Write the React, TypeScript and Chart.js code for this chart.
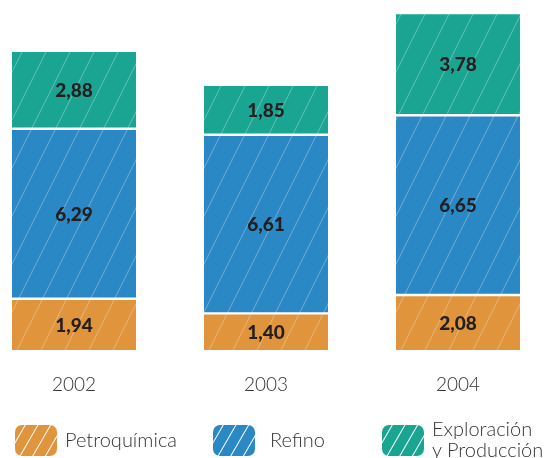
import React, { useEffect, useRef } from "react";
import { Chart, registerables } from "chart.js";

Chart.register(...registerables);

const years = ["2002", "2003", "2004"];
const petroquimica = [1.94, 1.4, 2.08];
const refino = [6.29, 6.61, 6.65];
const exploracion = [2.88, 1.85, 3.78];
const seriesNames = ["Petroquímica", "Refino", "Exploración y Producción"];
const legendLines = [["Petroquímica"], ["Refino"], ["Exploración", "y Producción"]];
const colors = ["#E0953C", "#2A88C5", "#19A592"];

function makePattern(color: string) {
  const c = document.createElement("canvas");
  c.width = 48;
  c.height = 48;
  const ctx = c.getContext("2d")!;
  ctx.fillStyle = color;
  ctx.fillRect(0, 0, 48, 48);
  ctx.strokeStyle = "rgba(255,255,255,0.25)";
  ctx.lineWidth = 1.2;
  for (let i = -48; i < 96; i += 24) {
    ctx.beginPath();
    ctx.moveTo(i, 48);
    ctx.lineTo(i + 24, 0);
    ctx.stroke();
  }
  return ctx.createPattern(c, "repeat")!;
}

const valueLabels = {
  id: "valueLabels",
  afterDatasetsDraw(chart: any) {
    const ctx = chart.ctx;
    ctx.save();
    ctx.font = "900 19px Lato";
    ctx.fillStyle = "#231f20";
    ctx.textAlign = "center";
    ctx.textBaseline = "middle";
    chart.data.datasets.forEach((ds: any, di: number) => {
      const meta = chart.getDatasetMeta(di);
      meta.data.forEach((bar: any, i: number) => {
        const p = bar.getProps(["x", "y", "base"], true);
        ctx.fillText(Number(ds.data[i]).toFixed(2).replace(".", ","), p.x, (p.y + p.base) / 2 + 1);
      });
    });
    ctx.restore();
  },
};

export default function App() {
  const ref = useRef<HTMLCanvasElement>(null);

  useEffect(() => {
    if (!ref.current) return;
    const series = [petroquimica, refino, exploracion];
    const chart = new Chart(ref.current, {
      type: "bar",
      data: {
        labels: years,
        datasets: series.map((d, i) => ({
          label: seriesNames[i],
          data: d,
          backgroundColor: makePattern(colors[i]),
          borderColor: "#ffffff",
          borderWidth: { top: 1.5, bottom: 1.5, left: 0, right: 0 },
          borderSkipped: false,
          barThickness: 124,
          clip: false as any,
        })),
      },
      options: {
        animation: false,
        responsive: true,
        maintainAspectRatio: false,
        layout: { padding: { left: 74, right: 86, top: 12, bottom: 17 } },
        plugins: { legend: { display: false }, tooltip: { enabled: false } },
        scales: {
          x: {
            stacked: true,
            offset: false,
            grid: { display: false, drawTicks: false },
            border: { display: false },
            ticks: {
              font: { family: "Lato", size: 19, weight: 300 as any },
              color: "#333333",
              padding: 22,
              autoSkip: false,
              maxRotation: 0,
            },
          },
          y: { stacked: true, display: false, min: 0, max: 12.55 },
        },
      },
      plugins: [valueLabels],
    });
    return () => chart.destroy();
  }, []);

  const swatchLeft = [15, 213, 382];
  const textLeft = [65, 270, 432];

  return (
    <div style={{ position: "absolute", left: 0, top: 0, width: 544, height: 458, background: "#fff", fontFamily: "Lato" }}>
      <div style={{ position: "absolute", left: 0, top: 0, width: 544, height: 435 }}>
        <canvas ref={ref} />
      </div>
      {legendLines.map((lines, i) => (
        <React.Fragment key={i}>
          <div
            style={{
              position: "absolute",
              left: swatchLeft[i],
              top: 425,
              width: 42,
              height: 31,
              borderRadius: 7,
              background: `repeating-linear-gradient(-60deg, ${colors[i]} 0px, ${colors[i]} 9px, rgba(255,255,255,0.45) 10px, ${colors[i]} 11px)`,
            }}
          />
          <div
            style={{
              position: "absolute",
              left: textLeft[i],
              top: lines.length > 1 ? 418 : 429,
              fontSize: 20,
              fontWeight: 300,
              lineHeight: "21px",
              color: "#333333",
              whiteSpace: "nowrap",
            }}
          >
            {lines.map((l, j) => (
              <div key={j}>{l}</div>
            ))}
          </div>
        </React.Fragment>
      ))}
    </div>
  );
}
